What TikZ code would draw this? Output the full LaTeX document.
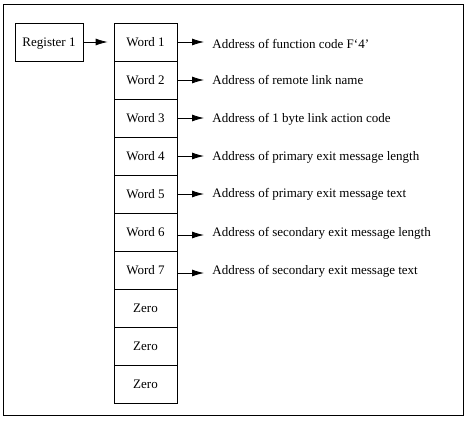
\documentclass[tikz,border=0pt]{standalone}
\usepackage{fontspec}
\setmainfont{Liberation Serif}
\usetikzlibrary{arrows.meta}
\begin{document}
\begin{tikzpicture}[x=1pt, y=-1pt, line width=0.8pt,
    every node/.style={font=\fontsize{13}{15}\selectfont},
    cell/.style={draw, minimum width=63pt, minimum height=38pt, inner sep=0pt, text depth=-2pt},
    addr/.style={anchor=west, inner sep=0pt},
    ptr/.style={-{Latex[length=12pt, width=7pt]}, shorten >=8pt}]

    \useasboundingbox (0,0) rectangle (467,421);
    % Frame
    \draw (3,4) rectangle (463,415);

    % Nodes
    \node[cell, minimum width=68pt] (reg1) at (49,42) {Register 1};
    \node[cell] (word1) at (145.5,42) {Word 1};
    \node[cell] (word2) at (145.5,80) {Word 2};
    \node[cell] (word3) at (145.5,118) {Word 3};
    \node[cell] (word4) at (145.5,156) {Word 4};
    \node[cell] (word5) at (145.5,194) {Word 5};
    \node[cell] (word6) at (145.5,232) {Word 6};
    \node[cell] (word7) at (145.5,270) {Word 7};
    \node[cell] (zero1) at (145.5,308) {Zero};
    \node[cell] (zero2) at (145.5,346) {Zero};
    \node[cell] (zero3) at (145.5,384) {Zero};

    \node[addr] (addr1) at (212,44) {Address of function code F‘4’};
    \node[addr] (addr2) at (212,80) {Address of remote link name};
    \node[addr] (addr3) at (212,119) {Address of 1 byte link action code};
    \node[addr] (addr4) at (212,157) {Address of primary exit message length};
    \node[addr] (addr5) at (212,194) {Address of primary exit message text};
    \node[addr] (addr6) at (212,233) {Address of secondary exit message length};
    \node[addr] (addr7) at (212,271) {Address of secondary exit message text};

    % Edges
    \draw[ptr, shorten >=6pt] (reg1) -- (word1);
    \draw[ptr] (word1.east) -- (word1.east -| addr1.west);
    \draw[ptr] (word2.east) -- (word2.east -| addr2.west);
    \draw[ptr] (word3.east) -- (word3.east -| addr3.west);
    \draw[ptr] (word4.east) -- (word4.east -| addr4.west);
    \draw[ptr] (word5.east) -- (word5.east -| addr5.west);
    \draw[ptr] ([yshift=-3pt]word6.east) -- ([yshift=-3pt]word6.east -| addr6.west);
    \draw[ptr] ([yshift=-3pt]word7.east) -- ([yshift=-3pt]word7.east -| addr7.west);
\end{tikzpicture}
\end{document}
